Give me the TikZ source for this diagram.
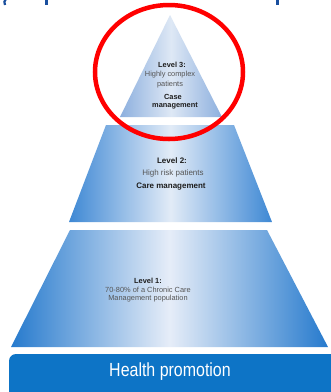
\documentclass[tikz,border=0pt]{standalone}
\usepackage{fontspec}
\setmainfont{Liberation Sans}
\definecolor{edgeA}{RGB}{38,122,205}
\definecolor{midA}{RGB}{230,237,248}
\definecolor{edgeB}{RGB}{62,136,212}
\definecolor{midB}{RGB}{226,235,247}
\definecolor{edgeC}{RGB}{140,175,222}
\definecolor{midC}{RGB}{222,232,245}
\definecolor{hpblue}{RGB}{13,116,198}
\definecolor{titleblue}{RGB}{26,79,158}
\definecolor{txtgray}{RGB}{85,85,85}
\definecolor{txtdark}{RGB}{30,30,30}
\tikzset{
  lvlA/.style={shade, left color=edgeA, right color=edgeA, middle color=midA, draw=none},
  lvlB/.style={shade, left color=edgeB, right color=edgeB, middle color=midB, draw=none},
  lvlC/.style={shade, left color=edgeC, right color=edgeC, middle color=midC, draw=none},
  boldt/.style={font=\fontsize{8}{9}\selectfont\bfseries, text=txtdark, inner sep=0pt},
  regt/.style={font=\fontsize{8}{9}\selectfont, text=txtgray, inner sep=0pt},
  smallb/.style={font=\fontsize{7.4}{8}\selectfont\bfseries, text=txtdark, inner sep=0pt},
  smallr/.style={font=\fontsize{7.4}{8}\selectfont, text=txtgray, inner sep=0pt},
}
\begin{document}
\begin{tikzpicture}[x=1pt,y=-1pt]
\useasboundingbox (0,0) rectangle (331,392);
\fill[white] (0,0) rectangle (331,392);
% title fragments (cut off)
\draw[titleblue, line width=2.2pt] (6,-1) .. controls (4,2) .. (5,5);
\fill[titleblue] (45,-1) rectangle (48,5);
\fill[titleblue] (276,-1) rectangle (279,5);
% pyramid levels
\path[lvlC] (170,15) -- (222,117) -- (120,117) -- cycle;
\path[lvlB] (106,125) -- (234,125) -- (272,222) -- (69,222) -- cycle;
\path[lvlA] (70,230) -- (267,230) -- (328,347) -- (11,347) -- cycle;
% health promotion
\fill[hpblue, rounded corners=7pt] (9,354) rectangle (345,400);
\node[font=\fontsize{19}{22}\selectfont, text=white, inner sep=0pt] (hp) at (170,372) {\scalebox{0.84}[1]{Health promotion}};
% level 3 text
\node[smallb] (l3a) at (172,65) {Level 3:};
\node[smallr] (l3b) at (170,75) {Highly complex};
\node[smallr] (l3c) at (170,85) {patients};
\node[smallb] (l3d) at (173,97) {Case};
\node[smallb] (l3e) at (175,106) {management};
% level 2 text
\node[boldt] (l2a) at (172,161) {Level 2:};
\node[regt] (l2b) at (173,173) {High risk patients};
\node[boldt] (l2c) at (171,187) {Care management};
% level 1 text
\node[smallb] (l1a) at (148,281) {Level 1:};
\node[smallr] (l1b) at (148,290) {70-80\% of a Chronic Care};
\node[smallr] (l1c) at (148,299) {Management population};
% red ellipse
\draw[red, line width=4.5pt] (169,72) ellipse [x radius=74, y radius=67];
\end{tikzpicture}
\end{document}
